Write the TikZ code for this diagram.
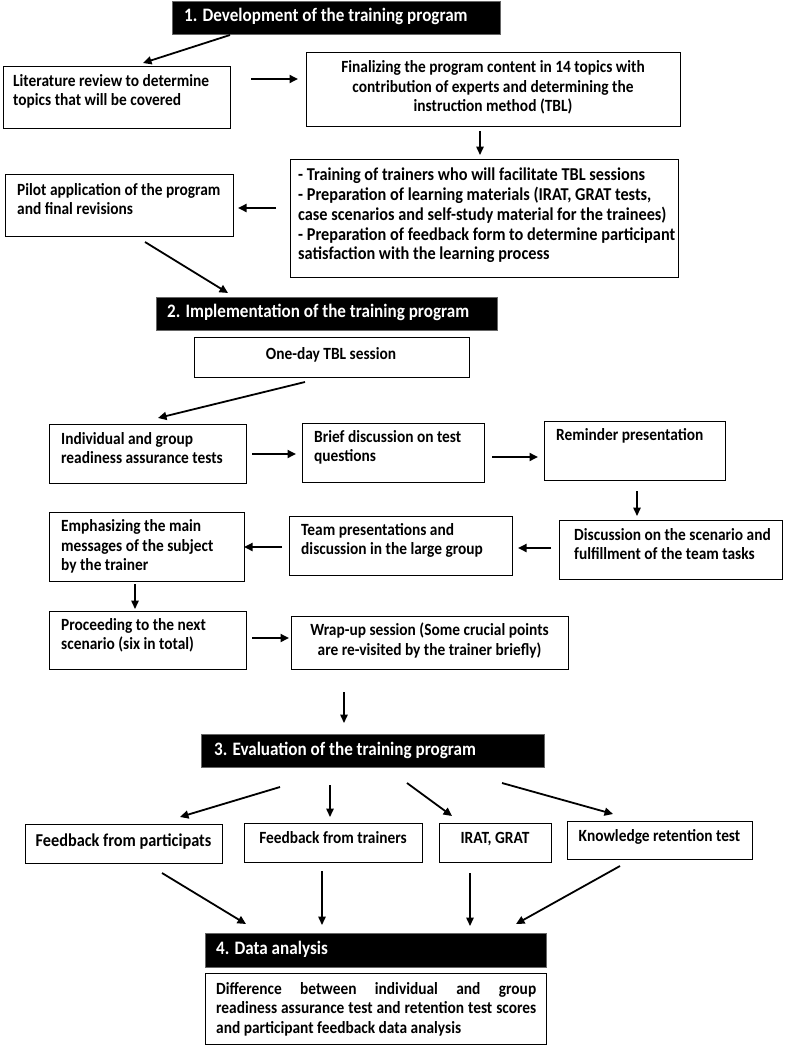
\documentclass[tikz,border=0pt]{standalone}
\usepackage{fontspec}
\setmainfont{Carlito}[FakeStretch=0.9]
\usetikzlibrary{arrows.meta}
\hfuzz=20pt
\tikzset{
  box/.style={draw=black, line width=1.3pt, fill=white, anchor=north west, inner sep=0pt},
  hdr/.style={fill=black, draw=black!60, line width=0.6pt, anchor=north west, inner sep=0pt},
  txt/.style={font=\bfseries\fontsize{17.1}{19.7}\selectfont, inner sep=0pt,
    execute at begin node=\strut, execute at end node=\strut},
  bigtxt/.style={txt, font=\bfseries\fontsize{18.1}{19.7}\selectfont},
  htxt/.style={txt, text=white, font=\bfseries\fontsize{19}{19.7}\selectfont},
  arr/.style={line width=1.8pt, -{Triangle[length=8.5pt,width=8pt]}},
  varr/.style={line width=1.5pt, -{Triangle[length=8.5pt,width=7.5pt]}},
}
\newcommand{\mybox}[6][box]{%
  \node[#1, minimum width={#5pt-#3pt}, minimum height={#6pt-#4pt}] (#2) at (#3,#4) {};}
\begin{document}
\begin{tikzpicture}[x=1pt, y=-1pt]
\useasboundingbox[fill=white] (0,0) rectangle (789,1046);

% ---------- 1. Development ----------
\mybox[hdr]{h1}{172}{1}{500}{34}
\node[htxt, anchor=west] (h1t) at (184,18) {1. Development of the training program};

\mybox{lit}{3}{66}{230}{128}
\node[txt, anchor=west, align=left] (litt) at (13,93) {Literature review to determine\\topics that will be covered};

\mybox{fin}{306}{52}{680}{126}
\node[txt, align=center] (fint) at (493,89) {Finalizing the program content in 14 topics with\\contribution of experts and determining the\\instruction method (TBL)};

\mybox{train}{290}{159}{678}{277}
\node[bigtxt, anchor=west, align=left] (traint) at (298,217) {- Training of trainers who will facilitate TBL sessions\\- Preparation of learning materials (IRAT, GRAT tests,\\case scenarios and self-study material for the trainees)\\- Preparation of feedback form to determine participant\\satisfaction with the learning process};

\mybox{pilot}{5}{174}{233}{236}
\node[txt, anchor=west, align=left] (pilott) at (17,202) {Pilot application of the program\\and final revisions};

% ---------- 2. Implementation ----------
\mybox[hdr]{h2}{156}{297}{497}{330}
\node[htxt, anchor=west] (h2t) at (167,314) {2. Implementation of the training program};

\mybox{oneday}{194}{337}{469}{377}
\node[txt] (onedayt) at (331,356) {One-day TBL session};

\mybox{ind}{49}{424}{246}{483}
\node[txt, anchor=west, align=left] (indt) at (61,451) {Individual and group\\readiness assurance tests};

\mybox{brief}{302}{423}{484}{482}
\node[txt, anchor=west, align=left] (brieft) at (314,449) {Brief discussion on test\\questions};

\mybox{rem}{544}{421}{725}{480}
\node[txt, anchor=west, align=left] (remt) at (556,437) {Reminder presentation};

\mybox{emph}{49}{512}{244}{581}
\node[txt, anchor=west, align=left] (empht) at (61,548) {Emphasizing the main\\messages of the subject\\by the trainer};

\mybox{team}{289}{516}{512}{575}
\node[txt, anchor=west, align=left] (teamt) at (301,542) {Team presentations and\\discussion in the large group};

\mybox{disc}{559}{520}{782}{579}
\node[txt, anchor=west, align=left] (disct) at (574,547) {Discussion on the scenario and\\fulfillment of the team tasks};

\mybox{proc}{49}{611}{246}{669}
\node[txt, anchor=west, align=left] (proct) at (61,637) {Proceeding to the next\\scenario (six in total)};

\mybox{wrap}{291}{616}{568}{669}
\node[txt, align=center] (wrapt) at (429.5,642) {Wrap-up session (Some crucial points\\are re-visited by the trainer briefly)};

% ---------- 3. Evaluation ----------
\mybox[hdr]{h3}{201}{734}{544}{767}
\node[htxt, anchor=west] (h3t) at (214,752) {3. Evaluation of the training program};

\mybox{fp}{25}{824}{222}{863}
\node[bigtxt] (fpt) at (123.5,843) {Feedback from participats};
\mybox{ft}{244}{823}{422}{862}
\node[txt] (ftt) at (333,840) {Feedback from trainers};
\mybox{irat}{439}{823}{551}{862}
\node[txt] (iratt) at (495,840) {IRAT, GRAT};
\mybox{krt}{567}{821}{752}{859}
\node[txt] (krtt) at (659.5,838) {Knowledge retention test};

% ---------- 4. Data analysis ----------
\mybox[hdr]{h4}{205}{933}{546}{967}
\node[htxt, anchor=west] (h4t) at (216,951) {4. Data analysis};

\mybox{data}{205}{973}{546}{1044}
\node[txt, anchor=west, text width=320pt, align=justify] (datat) at (216,1010)
  {Difference between individual and group\linebreak readiness assurance test and retention test scores\linebreak and participant feedback data analysis};

% ---------- connectors ----------
\coordinate (a1s) at (230,35);   \coordinate (a1e) at (143,63);
\coordinate (a2s) at (251,79);   \coordinate (a2e) at (298,79);
\coordinate (a3s) at (480,131);  \coordinate (a3e) at (480,155);
\coordinate (a4s) at (276,208);  \coordinate (a4e) at (238,208);
\coordinate (a5s) at (145,242);  \coordinate (a5e) at (228,293);
\coordinate (a6s) at (305,382);  \coordinate (a6e) at (158,418);
\coordinate (a7s) at (252,454);  \coordinate (a7e) at (296,454);
\coordinate (a8s) at (492,457);  \coordinate (a8e) at (538,457);
\coordinate (a9s) at (637,491);  \coordinate (a9e) at (637,516);
\coordinate (a10s) at (551,548); \coordinate (a10e) at (518,548);
\coordinate (a11s) at (282,547); \coordinate (a11e) at (244,547);
\coordinate (a12s) at (135,584); \coordinate (a12e) at (135,609);
\coordinate (a13s) at (252,638); \coordinate (a13e) at (289,638);
\coordinate (a14s) at (344,692); \coordinate (a14e) at (344,723);
\coordinate (a15s) at (280,787); \coordinate (a15e) at (180,817);
\coordinate (a16s) at (330,785); \coordinate (a16e) at (330,817);
\coordinate (a17s) at (407,783); \coordinate (a17e) at (452,816);
\coordinate (a18s) at (502,783); \coordinate (a18e) at (613,814);
\coordinate (a19s) at (162,873); \coordinate (a19e) at (246,924);
\coordinate (a20s) at (322,871); \coordinate (a20e) at (322,925);
\coordinate (a21s) at (470,873); \coordinate (a21e) at (470,926);
\coordinate (a22s) at (620,866); \coordinate (a22e) at (516,924);

\foreach \a in {a1,a2,a4,a5,a6,a7,a8,a10,a11,a13,a15,a17,a18,a19,a22}
  \draw[arr] (\a s) -- (\a e);
\foreach \a in {a3,a9,a12,a14,a16,a20,a21}
  \draw[varr] (\a s) -- (\a e);
\end{tikzpicture}
\end{document}
